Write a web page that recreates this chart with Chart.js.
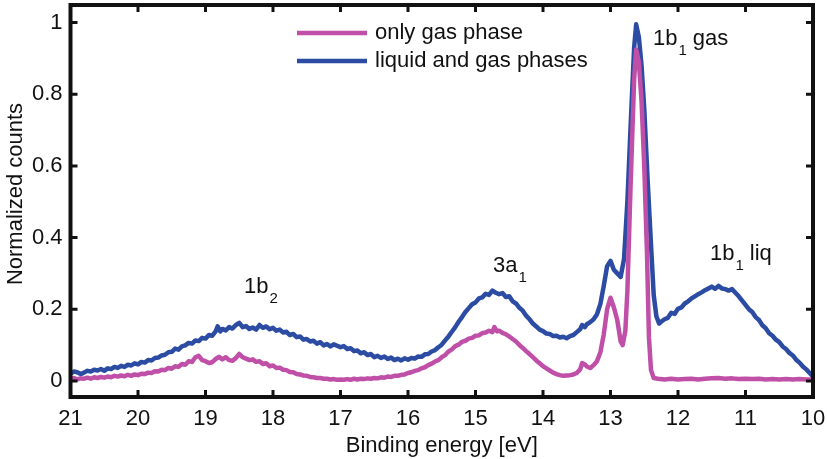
<!DOCTYPE html>
<html>
<head>
<meta charset="utf-8">
<script src="https://cdn.jsdelivr.net/npm/chart.js@4.4.1/dist/chart.umd.min.js"></script>
<style>
  html, body { margin: 0; padding: 0; background: #fff; }
  #wrap { width: 827px; height: 459px; }
</style>
</head>
<body>
<div id="wrap"><canvas id="spectrum" width="827" height="459"></canvas></div>
<script>
// Binding energies [eV] and normalized counts
const gasEnergy = [
    21.00, 20.95, 20.90, 20.85, 20.80, 20.75, 20.70, 20.65, 20.60, 20.55,
    20.50, 20.45, 20.40, 20.35, 20.30, 20.25, 20.20, 20.15, 20.10, 20.05,
    20.00, 19.95, 19.90, 19.85, 19.80, 19.75, 19.70, 19.65, 19.60, 19.55,
    19.50, 19.45, 19.40, 19.35, 19.30, 19.25, 19.20, 19.15, 19.10, 19.05,
    19.00, 18.95, 18.90, 18.85, 18.80, 18.75, 18.70, 18.65, 18.60, 18.55,
    18.50, 18.45, 18.40, 18.35, 18.30, 18.25, 18.20, 18.15, 18.10, 18.05,
    18.00, 17.95, 17.90, 17.85, 17.80, 17.75, 17.70, 17.65, 17.60, 17.55,
    17.50, 17.45, 17.40, 17.35, 17.30, 17.25, 17.20, 17.15, 17.10, 17.05,
    17.00, 16.95, 16.90, 16.85, 16.80, 16.75, 16.70, 16.65, 16.60, 16.55,
    16.50, 16.45, 16.40, 16.35, 16.30, 16.25, 16.20, 16.15, 16.10, 16.05,
    16.00, 15.95, 15.90, 15.85, 15.80, 15.75, 15.70, 15.65, 15.60, 15.55,
    15.50, 15.45, 15.40, 15.35, 15.30, 15.25, 15.20, 15.15, 15.10, 15.05,
    15.00, 14.95, 14.90, 14.85, 14.80, 14.75, 14.72, 14.68, 14.65, 14.60,
    14.55, 14.50, 14.45, 14.40, 14.35, 14.30, 14.25, 14.20, 14.15, 14.10,
    14.05, 14.00, 13.95, 13.90, 13.85, 13.80, 13.75, 13.70, 13.65, 13.60,
    13.55, 13.50, 13.45, 13.42, 13.38, 13.35, 13.30, 13.25, 13.20, 13.15,
    13.10, 13.05, 13.00, 12.95, 12.90, 12.85, 12.82, 12.78, 12.75, 12.70,
    12.65, 12.62, 12.58, 12.54, 12.50, 12.46, 12.43, 12.40, 12.36, 12.30,
    12.20, 12.10, 12.00, 11.90, 11.80, 11.70, 11.60, 11.50, 11.40, 11.30,
    11.20, 11.10, 11.00, 10.90, 10.80, 10.70, 10.60, 10.50, 10.40, 10.30,
    10.20, 10.10, 10.00];
const gasCounts = [
    0.005, 0.008, 0.004, 0.007, 0.006, 0.009, 0.006, 0.010, 0.008, 0.011,
    0.009, 0.012, 0.010, 0.014, 0.012, 0.015, 0.013, 0.017, 0.014, 0.018,
    0.016, 0.020, 0.019, 0.023, 0.022, 0.027, 0.026, 0.031, 0.030, 0.036,
    0.034, 0.041, 0.039, 0.047, 0.045, 0.055, 0.053, 0.066, 0.070, 0.058,
    0.055, 0.050, 0.052, 0.061, 0.067, 0.060, 0.066, 0.058, 0.056, 0.064,
    0.075, 0.066, 0.062, 0.058, 0.060, 0.053, 0.055, 0.047, 0.049, 0.041,
    0.043, 0.036, 0.037, 0.031, 0.030, 0.025, 0.024, 0.019, 0.018, 0.015,
    0.014, 0.011, 0.010, 0.008, 0.008, 0.006, 0.006, 0.004, 0.005, 0.003,
    0.004, 0.003, 0.005, 0.003, 0.006, 0.004, 0.006, 0.005, 0.007, 0.006,
    0.008, 0.007, 0.010, 0.009, 0.012, 0.011, 0.014, 0.014, 0.017, 0.018,
    0.022, 0.024, 0.028, 0.030, 0.035, 0.038, 0.044, 0.048, 0.054, 0.058,
    0.066, 0.072, 0.082, 0.088, 0.097, 0.101, 0.109, 0.112, 0.118, 0.120,
    0.126, 0.127, 0.133, 0.135, 0.140, 0.136, 0.150, 0.138, 0.140, 0.134,
    0.130, 0.124, 0.117, 0.110, 0.100, 0.092, 0.083, 0.075, 0.066, 0.057,
    0.049, 0.041, 0.035, 0.029, 0.023, 0.019, 0.016, 0.014, 0.015, 0.016,
    0.018, 0.022, 0.032, 0.050, 0.046, 0.040, 0.036, 0.044, 0.055, 0.080,
    0.130, 0.200, 0.232, 0.205, 0.170, 0.110, 0.100, 0.140, 0.250, 0.560,
    0.840, 0.925, 0.890, 0.780, 0.600, 0.360, 0.120, 0.030, 0.008, 0.006,
    0.004, 0.006, 0.004, 0.005, 0.006, 0.004, 0.006, 0.007, 0.008, 0.006,
    0.007, 0.005, 0.006, 0.005, 0.006, 0.004, 0.005, 0.004, 0.005, 0.004,
    0.005, 0.004, 0.004];

const liqEnergy = [
    21.00, 20.95, 20.90, 20.85, 20.80, 20.75, 20.70, 20.65, 20.60, 20.55,
    20.50, 20.45, 20.40, 20.35, 20.30, 20.25, 20.20, 20.15, 20.10, 20.05,
    20.00, 19.95, 19.90, 19.85, 19.80, 19.75, 19.70, 19.65, 19.60, 19.55,
    19.50, 19.45, 19.40, 19.35, 19.30, 19.25, 19.20, 19.15, 19.10, 19.05,
    19.00, 18.95, 18.90, 18.85, 18.82, 18.78, 18.75, 18.70, 18.65, 18.60,
    18.55, 18.50, 18.45, 18.40, 18.35, 18.30, 18.25, 18.20, 18.15, 18.10,
    18.05, 18.00, 17.95, 17.90, 17.85, 17.80, 17.75, 17.70, 17.65, 17.60,
    17.55, 17.50, 17.45, 17.40, 17.35, 17.30, 17.25, 17.20, 17.15, 17.10,
    17.05, 17.00, 16.95, 16.90, 16.85, 16.80, 16.75, 16.70, 16.65, 16.60,
    16.55, 16.50, 16.45, 16.40, 16.35, 16.30, 16.25, 16.20, 16.15, 16.10,
    16.05, 16.00, 15.95, 15.90, 15.85, 15.80, 15.75, 15.70, 15.65, 15.60,
    15.55, 15.50, 15.45, 15.40, 15.35, 15.30, 15.25, 15.20, 15.15, 15.10,
    15.05, 15.00, 14.95, 14.90, 14.85, 14.80, 14.75, 14.70, 14.65, 14.60,
    14.55, 14.50, 14.45, 14.40, 14.35, 14.30, 14.25, 14.20, 14.15, 14.10,
    14.05, 14.00, 13.95, 13.90, 13.85, 13.80, 13.75, 13.70, 13.65, 13.60,
    13.55, 13.50, 13.45, 13.42, 13.38, 13.35, 13.30, 13.25, 13.20, 13.15,
    13.10, 13.05, 13.00, 12.95, 12.90, 12.85, 12.80, 12.75, 12.70, 12.65,
    12.62, 12.58, 12.54, 12.50, 12.45, 12.40, 12.36, 12.32, 12.28, 12.25,
    12.20, 12.15, 12.10, 12.05, 12.00, 11.95, 11.90, 11.85, 11.80, 11.75,
    11.70, 11.65, 11.60, 11.55, 11.50, 11.45, 11.40, 11.35, 11.30, 11.25,
    11.20, 11.15, 11.10, 11.05, 11.00, 10.95, 10.90, 10.85, 10.80, 10.75,
    10.70, 10.65, 10.60, 10.55, 10.50, 10.45, 10.40, 10.35, 10.30, 10.25,
    10.20, 10.15, 10.10, 10.05, 10.00];
const liqCounts = [
    0.020, 0.026, 0.024, 0.019, 0.023, 0.028, 0.026, 0.031, 0.029, 0.033,
    0.028, 0.035, 0.033, 0.039, 0.036, 0.042, 0.039, 0.045, 0.043, 0.049,
    0.046, 0.053, 0.051, 0.058, 0.057, 0.064, 0.065, 0.071, 0.073, 0.080,
    0.081, 0.090, 0.087, 0.096, 0.099, 0.106, 0.104, 0.113, 0.111, 0.120,
    0.118, 0.128, 0.126, 0.138, 0.152, 0.138, 0.145, 0.141, 0.150, 0.146,
    0.156, 0.162, 0.150, 0.153, 0.145, 0.149, 0.143, 0.156, 0.148, 0.152,
    0.144, 0.148, 0.140, 0.143, 0.135, 0.137, 0.128, 0.131, 0.122, 0.124,
    0.115, 0.117, 0.110, 0.112, 0.104, 0.108, 0.099, 0.103, 0.096, 0.102,
    0.098, 0.094, 0.097, 0.089, 0.091, 0.083, 0.085, 0.077, 0.080, 0.072,
    0.075, 0.066, 0.070, 0.064, 0.068, 0.061, 0.065, 0.058, 0.062, 0.057,
    0.063, 0.059, 0.064, 0.062, 0.068, 0.067, 0.074, 0.075, 0.082, 0.086,
    0.094, 0.101, 0.113, 0.124, 0.137, 0.150, 0.165, 0.178, 0.192, 0.203,
    0.214, 0.219, 0.230, 0.233, 0.243, 0.240, 0.252, 0.246, 0.242, 0.245,
    0.234, 0.236, 0.222, 0.216, 0.204, 0.196, 0.182, 0.172, 0.160, 0.152,
    0.143, 0.139, 0.132, 0.131, 0.125, 0.126, 0.121, 0.123, 0.119, 0.125,
    0.128, 0.136, 0.144, 0.156, 0.150, 0.158, 0.164, 0.172, 0.186, 0.215,
    0.265, 0.320, 0.335, 0.310, 0.300, 0.290, 0.340, 0.500, 0.720, 0.930,
    0.995, 0.960, 0.880, 0.760, 0.560, 0.380, 0.240, 0.180, 0.160, 0.165,
    0.172, 0.176, 0.190, 0.187, 0.201, 0.205, 0.216, 0.222, 0.230, 0.236,
    0.242, 0.247, 0.253, 0.258, 0.263, 0.257, 0.265, 0.258, 0.256, 0.252,
    0.256, 0.246, 0.236, 0.224, 0.212, 0.200, 0.192, 0.178, 0.170, 0.155,
    0.147, 0.133, 0.126, 0.115, 0.108, 0.096, 0.089, 0.078, 0.071, 0.059,
    0.051, 0.040, 0.032, 0.022, 0.012];

const seriesNames = ["only gas phase", "liquid and gas phases"];
const xTicks = [21, 20, 19, 18, 17, 16, 15, 14, 13, 12, 11, 10];
const yTicks = [0, 0.2, 0.4, 0.6, 0.8, 1];

const GAS_COLOR = "#c04fa8";
const LIQ_COLOR = "#2c4ca4";
const FONT = "Liberation Sans, Arial, Helvetica, sans-serif";

function toPoints(xs, ys) {
    return xs.map((x, i) => ({ x: x, y: ys[i] }));
}

// label with a subscript, e.g. 1b_1 gas
function drawSubLabel(ctx, x, y, main, sub, rest) {
    ctx.font = "22px " + FONT;
    ctx.fillText(main, x, y);
    let w = ctx.measureText(main).width;
    ctx.font = "15px " + FONT;
    ctx.fillText(sub, x + w + 1, y + 10);
    w += ctx.measureText(sub).width + 1;
    if (rest) {
        ctx.font = "22px " + FONT;
        ctx.fillText(rest, x + w + 6, y);
    }
}

// frame, inward ticks, y title, legend and peak labels
const framePlugin = {
    id: "frame",
    afterDraw(chart) {
        const ctx = chart.ctx;
        const a = chart.chartArea;
        const xs = chart.scales.x;
        const ys = chart.scales.y;
        ctx.save();
        ctx.strokeStyle = "#111";
        ctx.lineWidth = 3;
        xTicks.forEach(t => {
            const px = xs.getPixelForValue(t);
            ctx.beginPath();
            ctx.moveTo(px, a.bottom); ctx.lineTo(px, a.bottom - 7);
            ctx.moveTo(px, a.top); ctx.lineTo(px, a.top + 7);
            ctx.stroke();
        });
        yTicks.forEach(t => {
            const py = ys.getPixelForValue(t);
            ctx.beginPath();
            ctx.moveTo(a.left, py); ctx.lineTo(a.left + 7, py);
            ctx.moveTo(a.right, py); ctx.lineTo(a.right - 7, py);
            ctx.stroke();
        });
        ctx.lineWidth = 4;
        ctx.strokeRect(a.left, a.top, a.right - a.left, a.bottom - a.top);

        ctx.fillStyle = "#111";

        // y axis title
        ctx.save();
        ctx.translate(22, 194);
        ctx.rotate(-Math.PI / 2);
        ctx.font = "22px " + FONT;
        ctx.textAlign = "center";
        ctx.textBaseline = "alphabetic";
        ctx.fillText("Normalized counts", 0, 0);
        ctx.restore();

        // legend
        const colors = [GAS_COLOR, LIQ_COLOR];
        ctx.font = "22px " + FONT;
        ctx.textBaseline = "middle";
        seriesNames.forEach((name, i) => {
            const ly = 33 + i * 28;
            ctx.strokeStyle = colors[i];
            ctx.lineWidth = 4.5;
            ctx.beginPath();
            ctx.moveTo(297, ly); ctx.lineTo(367, ly);
            ctx.stroke();
            ctx.fillText(name, 375, ly);
        });

        // peak labels
        ctx.textBaseline = "alphabetic";
        drawSubLabel(ctx, 244, 293, "1b", "2");
        drawSubLabel(ctx, 493, 272, "3a", "1");
        drawSubLabel(ctx, 653, 45, "1b", "1", "gas");
        drawSubLabel(ctx, 710, 260, "1b", "1", "liq");
        ctx.restore();
    }
};

const ctx = document.getElementById("spectrum").getContext("2d");
new Chart(ctx, {
    type: "line",
    data: {
        datasets: [
            {
                label: seriesNames[0],
                data: toPoints(gasEnergy, gasCounts),
                borderColor: GAS_COLOR,
                borderWidth: 4.5,
                borderJoinStyle: "round",
                pointRadius: 0,
                tension: 0,
                fill: false
            },
            {
                label: seriesNames[1],
                data: toPoints(liqEnergy, liqCounts),
                borderColor: LIQ_COLOR,
                borderWidth: 4.5,
                borderJoinStyle: "round",
                pointRadius: 0,
                tension: 0,
                fill: false
            }
        ]
    },
    options: {
        responsive: false,
        animation: false,
        layout: { padding: { top: 5, right: 14, left: 0, bottom: 0 } },
        plugins: {
            legend: { display: false },
            tooltip: { enabled: false }
        },
        scales: {
            x: {
                type: "linear",
                reverse: true,
                min: 10,
                max: 21,
                afterBuildTicks: s => { s.ticks = xTicks.map(v => ({ value: v })); },
                afterFit: s => { s.height = 62; s.paddingLeft = 0; s.paddingRight = 0; },
                grid: { display: false, drawTicks: false },
                border: { display: false },
                ticks: { color: "#111", padding: 9, maxRotation: 0, font: { family: FONT, size: 22 } },
                title: {
                    display: true,
                    text: "Binding energy [eV]",
                    color: "#111",
                    font: { family: FONT, size: 22 },
                    padding: { top: 0, bottom: 0 }
                }
            },
            y: {
                min: -0.045,
                max: 1.049,
                afterBuildTicks: s => { s.ticks = yTicks.map(v => ({ value: v })); },
                afterFit: s => { s.width = 70.5; s.paddingTop = 0; s.paddingBottom = 0; },
                grid: { display: false, drawTicks: false },
                border: { display: false },
                ticks: {
                    color: "#111",
                    padding: 8,
                    font: { family: FONT, size: 22 },
                    callback: v => String(v)
                }
            }
        }
    },
    plugins: [framePlugin]
});
</script>
</body>
</html>
